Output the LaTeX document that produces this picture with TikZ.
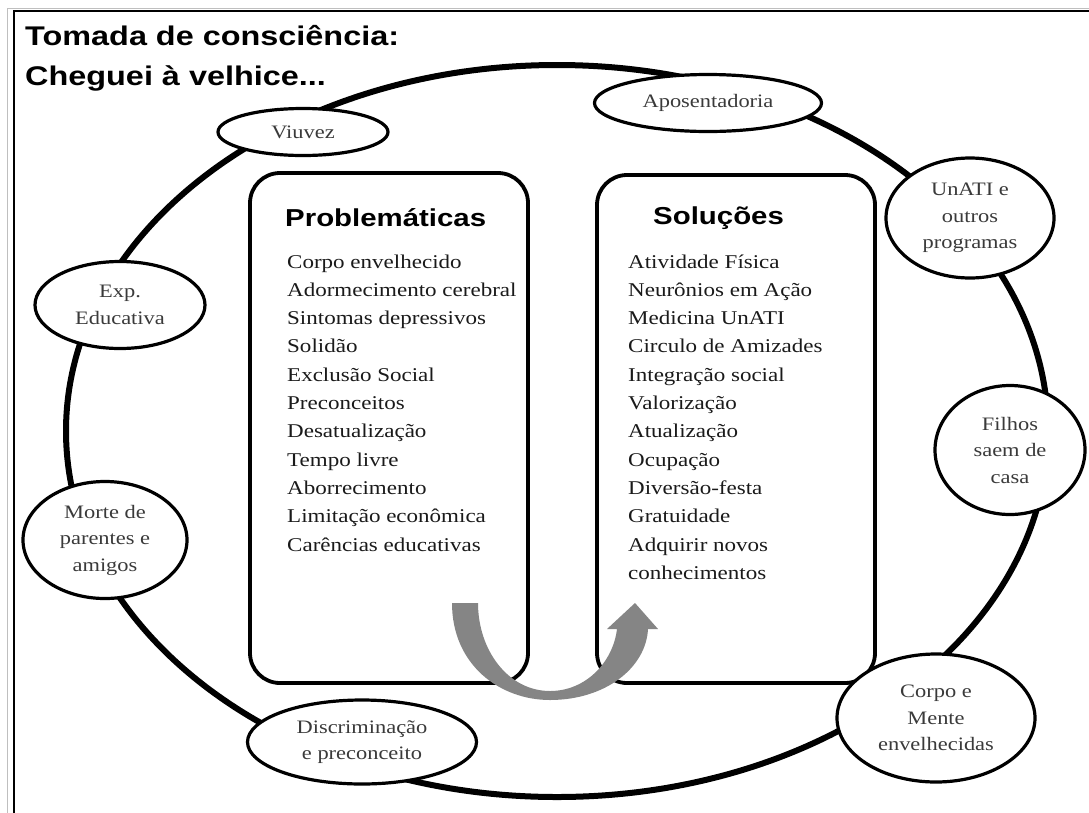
\documentclass[tikz,border=0pt]{standalone}
\usepackage{fontspec}
\usetikzlibrary{shapes.geometric}
\newfontfamily\serifw{Liberation Serif}[FakeStretch=1.18]
\newfontfamily\sansw{Liberation Sans}[FakeStretch=1.2]
\definecolor{labelgray}{HTML}{3A3A3A}
\definecolor{listblack}{HTML}{1A1A1A}
\definecolor{arrowgray}{HTML}{858585}
\begin{document}
\begin{tikzpicture}[x=1pt,y=-1pt,
  ell/.style={ellipse, draw, line width=3.2pt, fill=white, inner sep=0pt,
    text=labelgray, align=center, font=\serifw\fontsize{19}{26.5}\selectfont},
  panel/.style={draw, line width=3.8pt, rounded corners=30pt, fill=white, inner sep=0pt},
  listitem/.style={anchor=base west, inner sep=0pt, text=listblack,
    font=\serifw\fontsize{19.5}{24}\selectfont},
  heading/.style={anchor=base west, inner sep=0pt,
    font=\sansw\bfseries\fontsize{24.5}{29}\selectfont},
  titletext/.style={anchor=base west, inner sep=0pt,
    font=\sansw\bfseries\fontsize{27}{32}\selectfont}]
\useasboundingbox (0,0) rectangle (1089,812);
% frame
\draw[black!25, line width=1pt] (7,830) -- (7,8) -- (1100,8);
\draw[line width=2.5pt] (14,830) -- (14,11) -- (1100,11);
% title
\node[titletext] (t1) at (25,45) {Tomada de consciência:};
\node[titletext] (t2) at (25,85) {Cheguei à velhice...};
% big cycle
\node[draw, ellipse, line width=6pt, minimum width=982pt, minimum height=732pt, inner sep=0pt] (cycle) at (557,431) {};
% panels
\node[panel, minimum width=278pt, minimum height=510pt] (pbox) at (389,428) {};
\node[panel, minimum width=278pt, minimum height=508pt] (sbox) at (736,429) {};
% events
\node[ell, minimum width=170pt, minimum height=47pt] (viuvez) at (303,132) {Viuvez};
\node[ell, minimum width=227pt, minimum height=57pt] (apos) at (708,103) {Aposentadoria};
\node[ell, minimum width=168pt, minimum height=120pt] (unati) at (970,218) {UnATI e\\outros\\programas};
\node[ell, minimum width=170pt, minimum height=87pt] (exp) at (120,305) {Exp.\\Educativa};
\node[ell, minimum width=150pt, minimum height=129pt] (filhos) at (1010,450) {Filhos\\saem de\\casa};
\node[ell, minimum width=164pt, minimum height=117pt] (morte) at (105,540) {Morte de\\parentes e\\amigos};
\node[ell, minimum width=198pt, minimum height=128pt] (corpo) at (936,718) {Corpo e\\Mente\\envelhecidas};
\node[ell, minimum width=229pt, minimum height=84pt] (discr) at (362,742) {Discriminação\\e preconceito};
% headings
\node[heading] (ph) at (285,226) {Problemáticas};
\node[heading] (sh) at (653,224) {Soluções};
% lists
\foreach \t [count=\i] in {Corpo envelhecido, Adormecimento cerebral, Sintomas depressivos, Solidão, Exclusão Social, Preconceitos, Desatualização, Tempo livre, Aborrecimento, Limitação econômica, Carências educativas}
  \node[listitem] (p\i) at (287,{268+28.3*(\i-1)}) {\t};
\foreach \t [count=\i] in {Atividade Física, Neurônios em Ação, Medicina UnATI, Circulo de Amizades, Integração social, Valorização, Atualização, Ocupação, Diversão-festa, Gratuidade, Adquirir novos, conhecimentos}
  \node[listitem] (s\i) at (628,{268+28.3*(\i-1)}) {\t};
% U-turn arrow
\fill[arrowgray] (452,603) .. controls (452,665) and (500,700) .. (550,700)
  .. controls (605,700) and (646,668) .. (648,629) -- (658,629) -- (635,603)
  -- (607,629) -- (617,629) .. controls (613,662) and (586,691) .. (550,691)
  .. controls (508,691) and (478,650) .. (478,603) -- cycle;
\end{tikzpicture}
\end{document}
